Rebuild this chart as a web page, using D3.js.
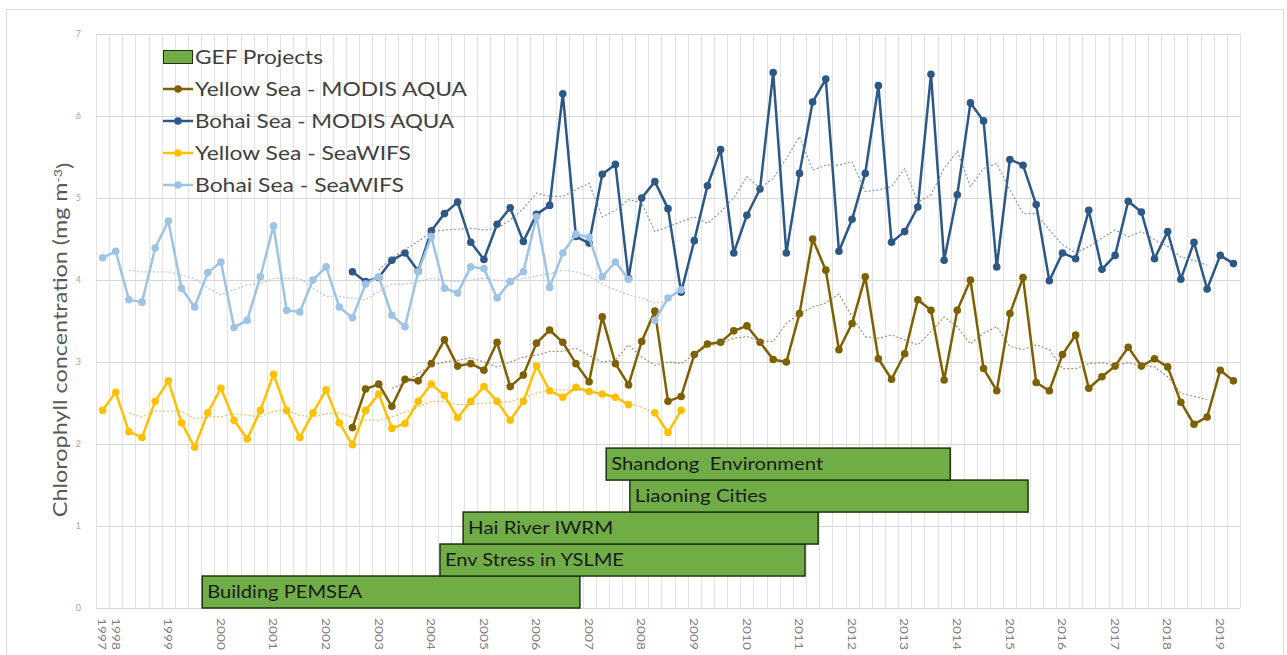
<!DOCTYPE html>
<html>
<head>
<meta charset="utf-8">
<script src="https://cdnjs.cloudflare.com/ajax/libs/d3/7.8.5/d3.min.js"></script>
<style>
  body { margin: 0; background: #ffffff; }
  svg { display: block; font-family: Lato, "Open Sans", sans-serif; }
</style>
</head>
<body>
<script>

// quarterly categories from 1997 Q4 to 2019 Q2
var firstYear = 1997, firstQuarter = 4, lastYear = 2019, lastQuarter = 2;
var categories = [];
for (var yr = firstYear; yr <= lastYear; yr++) {
	for (var q = 1; q <= 4; q++) {
		if (yr == firstYear && q < firstQuarter) continue;
		if (yr == lastYear && q > lastQuarter) continue;
		categories.push(yr + " Q" + q);
	}
}

// year labels on the x axis (1997 sits on its only quarter)
var yearLabels = ["1997", "1998", "1999", "2000", "2001", "2002", "2003", "2004", "2005", "2006", "2007", "2008",
	"2009", "2010", "2011", "2012", "2013", "2014", "2015", "2016", "2017", "2018", "2019"];
var yTicks = [0, 1, 2, 3, 4, 5, 6, 7];

// SeaWiFS series, starting 1997 Q4 (no data 2008 Q1)
var seawifsStart = "1997 Q4";
var yellowSeawifs = [2.41, 2.63, 2.15, 2.08, 2.52, 2.77, 2.26, 1.96, 2.38, 2.68,
	2.29, 2.06, 2.41, 2.85, 2.41, 2.08, 2.38, 2.66, 2.26, 1.99,
	2.41, 2.61, 2.19, 2.25, 2.52, 2.73, 2.59, 2.32, 2.52, 2.70,
	2.52, 2.29, 2.52, 2.95, 2.65, 2.57, 2.69, 2.64, 2.61, 2.57,
	2.48, null, 2.38, 2.14, 2.41];
var bohaiSeawifs = [4.27, 4.35, 3.76, 3.73, 4.39, 4.72, 3.90, 3.67, 4.09, 4.22,
	3.42, 3.51, 4.04, 4.66, 3.63, 3.61, 4.00, 4.16, 3.67, 3.54,
	3.95, 4.04, 3.57, 3.43, 4.10, 4.53, 3.90, 3.84, 4.16, 4.14,
	3.78, 3.98, 4.10, 4.77, 3.91, 4.33, 4.56, 4.52, 4.04, 4.22,
	4.01, null, 3.51, 3.78, 3.88];

// MODIS AQUA series, starting 2002 Q3
var modisStart = "2002 Q3";
var yellowModis = [2.20, 2.67, 2.73, 2.46, 2.79, 2.77, 2.98, 3.27, 2.95, 2.98,
	2.90, 3.24, 2.70, 2.84, 3.23, 3.39, 3.24, 2.98, 2.76, 3.55,
	2.98, 2.72, 3.25, 3.62, 2.52, 2.58, 3.09, 3.22, 3.24, 3.38,
	3.44, 3.24, 3.03, 3.00, 3.59, 4.50, 4.12, 3.15, 3.47, 4.04,
	3.04, 2.79, 3.10, 3.76, 3.63, 2.78, 3.63, 4.00, 2.92, 2.65,
	3.59, 4.03, 2.75, 2.65, 3.09, 3.33, 2.68, 2.82, 2.95, 3.18,
	2.95, 3.04, 2.94, 2.51, 2.24, 2.33, 2.90, 2.77];
var bohaiModis = [4.10, 3.98, 4.03, 4.24, 4.33, 4.11, 4.60, 4.81, 4.95, 4.46,
	4.25, 4.68, 4.88, 4.47, 4.80, 4.91, 6.27, 4.53, 4.45, 5.29,
	5.41, 4.02, 5.00, 5.20, 4.87, 3.85, 4.48, 5.15, 5.59, 4.33,
	4.79, 5.11, 6.53, 4.33, 5.30, 6.17, 6.45, 4.35, 4.74, 5.30,
	6.37, 4.46, 4.59, 4.89, 6.51, 4.24, 5.04, 6.16, 5.94, 4.16,
	5.47, 5.40, 4.92, 3.99, 4.33, 4.26, 4.85, 4.13, 4.30, 4.96,
	4.83, 4.26, 4.59, 4.01, 4.46, 3.89, 4.30, 4.20];

// dotted trend lines
var seawifsTrendStart = "1998 Q2";
var yellowSeawifsTrend = [2.38, 2.33, 2.40, 2.40, 2.40, 2.31, 2.33, 2.33, 2.37, 2.35,
	2.33, 2.40, 2.41, 2.35, 2.33, 2.37, 2.38, 2.33, 2.29, 2.29,
	2.33, 2.39, 2.45, 2.52, 2.52, 2.48, 2.48, 2.50, 2.50, 2.52,
	2.56, 2.62, 2.66, 2.66, 2.66, 2.64, 2.62, 2.58, 2.50, 2.45, 2.37];
var bohaiSeawifsTrend = [4.12, 4.10, 4.10, 4.10, 4.06, 4.02, 3.90, 3.82, 3.88, 3.94,
	3.96, 4.02, 4.02, 4.02, 3.90, 3.80, 3.80, 3.78, 3.76, 3.86,
	3.95, 3.95, 3.98, 4.02, 4.00, 3.98, 4.00, 4.02, 4.00, 3.98,
	4.02, 4.05, 4.08, 4.12, 4.10, 4.05, 3.95, 3.88, 3.82, 3.78, 3.72, 3.74];
var yellowModisTrendStart = "2003 Q2";
var yellowModisTrend = [2.68, 2.74, 2.86, 2.96, 3.00, 3.02, 3.05, 3.00, 2.94, 3.00,
	3.06, 3.08, 3.13, 3.13, 3.17, 3.08, 3.00, 3.02, 3.21, 3.06,
	2.96, 3.00, 2.98, 3.09, 3.19, 3.23, 3.29, 3.31, 3.26, 3.25,
	3.47, 3.59, 3.67, 3.72, 3.83, 3.55, 3.31, 3.29, 3.33, 3.27,
	3.21, 3.37, 3.55, 3.43, 3.22, 3.35, 3.43, 3.19, 3.15, 3.21,
	3.15, 2.92, 2.92, 2.98, 2.99, 2.96, 2.99, 2.96, 2.94, 2.82,
	2.62, 2.58, 2.54];
var bohaiModisTrendStart = "2003 Q1";
var bohaiModisTrend = [4.12, 4.27, 4.37, 4.47, 4.59, 4.61, 4.62, 4.63, 4.61, 4.63,
	4.73, 4.87, 5.06, 5.02, 5.02, 5.10, 5.18, 4.77, 4.85, 4.98,
	4.94, 4.59, 4.65, 4.71, 4.77, 4.69, 4.83, 5.00, 5.26, 5.12,
	5.24, 5.48, 5.75, 5.34, 5.40, 5.40, 5.44, 5.08, 5.10, 5.14,
	5.36, 4.95, 5.04, 5.36, 5.57, 5.14, 5.36, 5.42, 5.10, 4.81,
	4.81, 4.61, 4.43, 4.33, 4.41, 4.51, 4.61, 4.53, 4.59, 4.49,
	4.41, 4.28, 4.24, 4.18];

// GEF projects (decimal years), bottom lane first
var projectNames = ["Building PEMSEA", "Env Stress in YSLME", "Hai River IWRM", "Liaoning Cities", "Shandong  Environment"];
var projectStart = [1999.77, 2004.29, 2004.73, 2007.90, 2007.45];
var projectEnd = [2006.95, 2011.23, 2011.48, 2015.47, 2013.99];

// series names for the legend
var seriesNames = ["Yellow Sea - MODIS AQUA", "Bohai Sea - MODIS AQUA", "Yellow Sea - SeaWIFS", "Bohai Sea - SeaWIFS"];
var seriesColors = ["#7f6000", "#2b5886", "#ffc000", "#9dc3e6"];

var w = 1287, h = 655;
var plotLeft = 96, plotRight = 1240, plotTop = 34, plotBottom = 608;

var svg = d3.select("body").append("svg")
	.attr("width", w)
	.attr("height", h);

// outer chart frame
svg.append("rect")
	.attr("x", 6.5).attr("y", 9.5)
	.attr("width", 1277).attr("height", 700)
	.attr("fill", "none")
	.attr("stroke", "#d9d9d9");

var x = d3.scaleBand().domain(categories).range([plotLeft, plotRight]).padding(0);
var t = d3.scaleLinear().domain([1997.75, 1997.75 + categories.length / 4]).range([plotLeft, plotRight]);
var y = d3.scaleLinear().domain([0, 7]).range([plotBottom, plotTop]);
var lane = d3.scaleBand().domain(projectNames).range([y(0), y(1.95)]);

// vertical gridlines at category boundaries
var bounds = categories.map(function(c) { return x(c); }).concat([plotRight]);
svg.append("g").selectAll("line")
	.data(bounds).enter().append("line")
	.attr("x1", function(d) { return Math.round(d) + 0.5; })
	.attr("x2", function(d) { return Math.round(d) + 0.5; })
	.attr("y1", plotTop).attr("y2", plotBottom)
	.attr("stroke", "#e2e2e2");

// horizontal gridlines
svg.append("g")
	.attr("transform", "translate(" + plotLeft + ",0)")
	.call(d3.axisLeft(y).tickValues(yTicks).tickSize(-(plotRight - plotLeft)).tickFormat(""))
	.call(function(g) { g.select(".domain").remove(); })
	.selectAll("line").attr("stroke", "#d6d6d6");

// y tick labels
svg.append("g")
	.attr("transform", "translate(" + (plotLeft - 12) + ",0)")
	.call(d3.axisLeft(y).tickValues(yTicks).tickSize(0).tickFormat(d3.format("d")))
	.call(function(g) { g.select(".domain").remove(); })
	.selectAll("text")
	.attr("fill", "#a6a6a6")
	.style("font-size", "9px")
	.style("font-family", "Lato, sans-serif");

// x labels, rotated
var labelCat = function(l) { return l == "1997" ? "1997 Q4" : l + " Q1"; };
svg.append("g").selectAll("text")
	.data(yearLabels).enter().append("text")
	.attr("transform", function(d) {
		return "translate(" + (x(labelCat(d)) + x.bandwidth() / 2) + "," + (plotBottom + 10) + ") rotate(90)";
	})
	.attr("dy", "0.35em")
	.attr("textLength", 32)
	.attr("lengthAdjust", "spacingAndGlyphs")
	.attr("fill", "#808080")
	.style("font-size", "12px")
	.text(function(d) { return d; });

// y axis title (stretched along its length like the original)
var yTitle = svg.append("text")
	.attr("transform", "translate(60,340) rotate(-90) scale(1.17,1)")
	.attr("text-anchor", "middle")
	.attr("dy", "0.35em")
	.attr("fill", "#595959")
	.style("font-size", "20px");
yTitle.append("tspan").text("Chlorophyll concentration (mg m");
yTitle.append("tspan").attr("dy", "-0.45em").style("font-size", "12px").text("-3");
yTitle.append("tspan").attr("dy", "0.45em").text(")");

// GEF project bars
var proj = svg.append("g").selectAll("g")
	.data(projectNames).enter().append("g");
proj.append("rect")
	.attr("x", function(d, i) { return t(projectStart[i]); })
	.attr("width", function(d, i) { return t(projectEnd[i]) - t(projectStart[i]); })
	.attr("y", function(d) { return lane(d); })
	.attr("height", lane.bandwidth())
	.attr("fill", "#70ad47")
	.attr("stroke", "#1d3310")
	.attr("stroke-width", 1.5);
var projWidths = [155, 179, 145, 132, 212];
proj.append("text")
	.attr("x", function(d, i) { return t(projectStart[i]) + 5; })
	.attr("y", function(d) { return lane(d) + lane.bandwidth() / 2; })
	.attr("dy", "0.36em")
	.attr("textLength", function(d, i) { return projWidths[i]; })
	.attr("lengthAdjust", "spacingAndGlyphs")
	.attr("fill", "#1a1a1a")
	.style("font-size", "17px")
	.style("white-space", "pre")
	.text(function(d) { return d; });

// turn a start category + values into points
function toPoints(start, values) {
	var s = categories.indexOf(start);
	return values.map(function(v, k) { return { cat: categories[s + k], v: v }; });
}

var line = d3.line()
	.defined(function(d) { return d.v != null; })
	.x(function(d) { return x(d.cat) + x.bandwidth() / 2; })
	.y(function(d) { return y(d.v); });

var series = [
	toPoints(modisStart, yellowModis),
	toPoints(modisStart, bohaiModis),
	toPoints(seawifsStart, yellowSeawifs),
	toPoints(seawifsStart, bohaiSeawifs)
];
var trends = [
	toPoints(yellowModisTrendStart, yellowModisTrend),
	toPoints(bohaiModisTrendStart, bohaiModisTrend),
	toPoints(seawifsTrendStart, yellowSeawifsTrend),
	toPoints(seawifsTrendStart, bohaiSeawifsTrend)
];

// series lines + markers
series.forEach(function(pts, s) {
	svg.append("path")
		.datum(pts)
		.attr("d", line)
		.attr("fill", "none")
		.attr("stroke", seriesColors[s])
		.attr("stroke-width", 2.5)
		.attr("stroke-linejoin", "round");
	svg.append("g").selectAll("circle")
		.data(pts.filter(function(d) { return d.v != null; }))
		.enter().append("circle")
		.attr("cx", function(d) { return x(d.cat) + x.bandwidth() / 2; })
		.attr("cy", function(d) { return y(d.v); })
		.attr("r", 3.8)
		.attr("fill", seriesColors[s]);
});

// dotted trend lines on top
var trendColors = ["#8c7a4a", "#6f7f95", "#e8b430", "#a7bcd6"];
trends.forEach(function(pts, s) {
	svg.append("path")
		.datum(pts)
		.attr("d", line)
		.attr("fill", "none")
		.attr("stroke", trendColors[s])
		.attr("stroke-width", 1.2)
		.attr("stroke-dasharray", "2,2")
		.attr("opacity", 0.8);
});

// legend
var lg = svg.append("g");
lg.append("rect")
	.attr("x", 163.5).attr("y", 50.5)
	.attr("width", 29).attr("height", 13)
	.attr("fill", "#70ad47")
	.attr("stroke", "#1d3310");
lg.append("text")
	.attr("x", 195).attr("y", 57)
	.attr("dy", "0.36em")
	.attr("textLength", 128)
	.attr("lengthAdjust", "spacingAndGlyphs")
	.attr("fill", "#404040")
	.style("font-size", "19px")
	.text("GEF Projects");
var legendWidths = [272, 259, 216, 209];
seriesNames.forEach(function(name, i) {
	var ly = 89 + i * 32;
	lg.append("line")
		.attr("x1", 163).attr("x2", 193)
		.attr("y1", ly).attr("y2", ly)
		.attr("stroke", seriesColors[i])
		.attr("stroke-width", 2.5);
	lg.append("circle")
		.attr("cx", 178).attr("cy", ly).attr("r", 3.8)
		.attr("fill", seriesColors[i]);
	lg.append("text")
		.attr("x", 195).attr("y", ly)
		.attr("dy", "0.36em")
		.attr("textLength", legendWidths[i])
		.attr("lengthAdjust", "spacingAndGlyphs")
		.attr("fill", "#404040")
		.style("font-size", "19px")
		.text(name);
});

</script>
</body>
</html>
